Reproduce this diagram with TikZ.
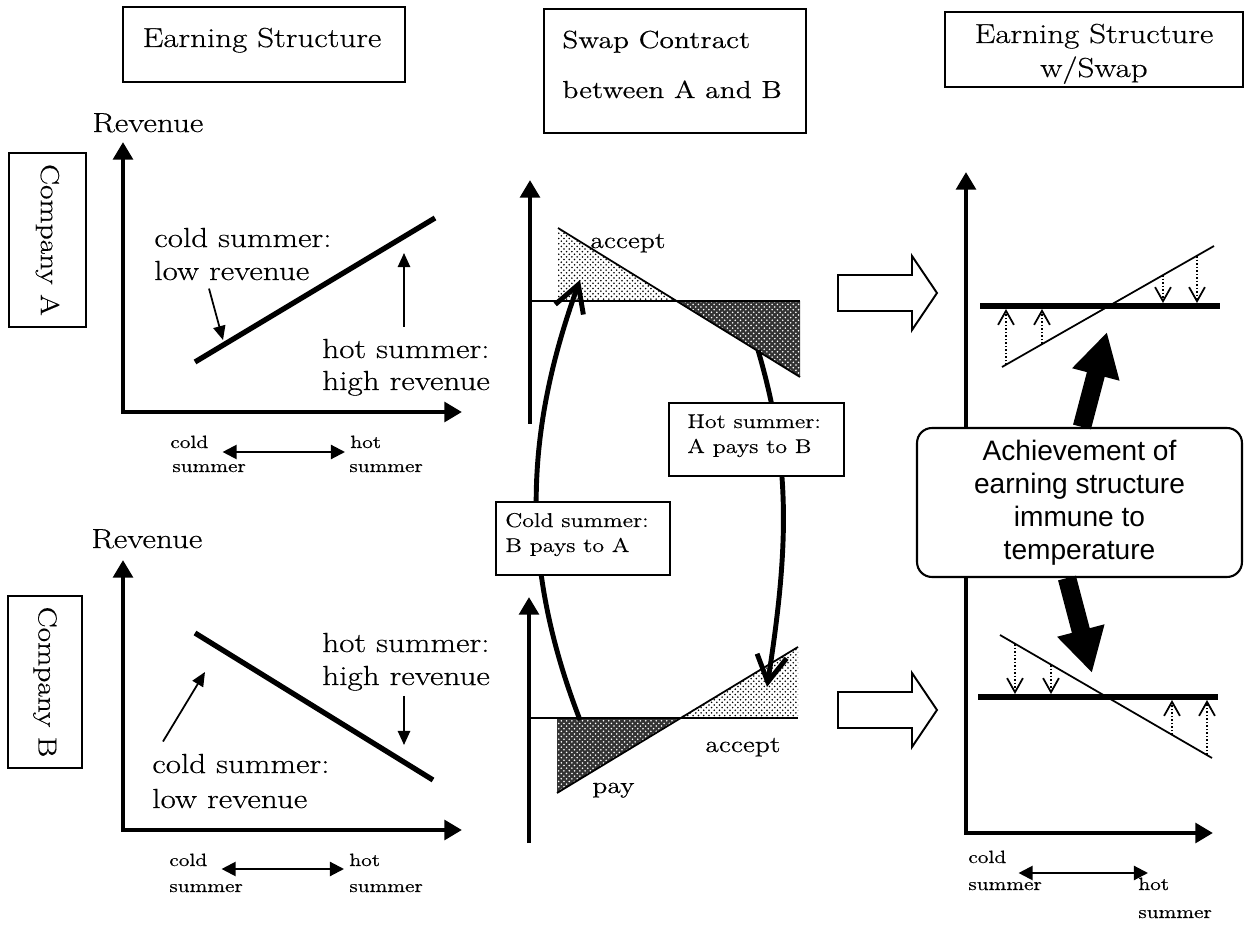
\documentclass[tikz,border=0pt]{standalone}
\usepackage{fontspec}
\setmainfont{Latin Modern Roman}[FakeStretch=1.2, FakeBold=0.45]
\newfontfamily\achfont{Liberation Sans}
\usepackage{tikz}
\usetikzlibrary{arrows.meta, patterns, positioning}

\begin{document}
\begin{tikzpicture}[x=0.02cm, y=-0.02cm, >={Triangle[length=10pt,width=11pt]},
  hdbox/.style={draw, line width=1pt, inner sep=0pt},
  lbl/.style={font=\fontsize{15.7}{18}\selectfont, inner sep=0pt, anchor=base west},
  ticklbl/.style={font=\fontsize{10.1}{13}\selectfont, inner sep=0pt, anchor=base west},
  note/.style={font=\fontsize{11.35}{14}\selectfont, inner sep=0pt, anchor=base west},
  axisln/.style={line width=2.5pt},
  revline/.style={line width=3pt},
  thinln/.style={line width=1pt},
  flat/.style={line width=3.5pt},
  pointer/.style={line width=1pt, -{Triangle[length=8pt,width=7pt]}},
  rangearr/.style={line width=1.2pt, {Triangle[length=8pt,width=8pt]}-{Triangle[length=8pt,width=8pt]}},
  swaparr/.style={line width=2.8pt, -{Straight Barb[length=15pt,width=17pt]}},
  fat/.style={line width=10.5pt, -{Triangle[length=25pt,width=26pt]}},
  adjarr/.style={densely dotted, line width=1pt, -{Straight Barb[length=8pt,width=9pt]}},
  accept/.style={pattern=crosshatch dots},
  pay/.style={preaction={fill=black!80}, pattern=crosshatch dots, pattern color=white}]

\useasboundingbox (0,0) rectangle (1249,929);

% column headers
\node[hdbox, minimum width=5.64cm, minimum height=1.5cm] (hdEarn) at (264,44.5) {};
\node[lbl, anchor=base, font=\fontsize{15.65}{18}\selectfont] (hdEarnT) at (262,47) {Earning Structure};
\node[hdbox, minimum width=5.24cm, minimum height=2.48cm] (hdSwap) at (675,71) {};
\node[lbl, font=\fontsize{14}{17}\selectfont] (hdSwapT) at (562,48) {Swap Contract};
\node[lbl, font=\fontsize{14}{17}\selectfont] (hdSwapT2) at (562,98) {between A and B};
\node[hdbox, minimum width=5.96cm, minimum height=1.5cm] (hdWith) at (1094,49.5) {};
\node[lbl, anchor=base, font=\fontsize{15.65}{18}\selectfont] (hdWithT) at (1094,43) {Earning Structure};
\node[lbl, anchor=base, font=\fontsize{15.65}{18}\selectfont] (hdWithT2) at (1094,77) {w/Swap};

% companies
\node[hdbox, rotate=-90, minimum width=3.48cm, minimum height=1.54cm, font=\fontsize{14.9}{17}\selectfont] (coA) at (47.5,240) {Company A};
\node[hdbox, rotate=-90, minimum width=3.44cm, minimum height=1.48cm, font=\fontsize{14.9}{17}\selectfont] (coB) at (45,682) {Company B};

% company A
\draw[axisln, <->] (123,142) |- (462,412);
\coordinate (lowA) at (195,362);
\coordinate (highA) at (435,218);
\draw[revline] (lowA) -- (highA);
\node[lbl] (revA) at (92,132) {Revenue};
\node[lbl] (coldA) at (154,247) {cold summer:};
\node[lbl] (coldA2) at (154,280) {low revenue};
\node[lbl] (hotA) at (322,358) {hot summer:};
\node[lbl] (hotA2) at (322,390) {high revenue};
\coordinate (ptA1) at (223,340);
\coordinate (ptA2) at (404,253);
\draw[pointer] ([shift={(55,8)}]coldA2.south west) -- (ptA1);
\draw[pointer] ([shift={(82,-12)}]hotA.north west) -- (ptA2);
\node[ticklbl] (tcA) at (170,448) {cold};
\node[ticklbl] (tcA2) at (172,472) {summer};
\node[ticklbl] (thA) at (350,448) {hot};
\node[ticklbl] (thA2) at (349,472) {summer};
\draw[rangearr] ([shift={(14,4)}]tcA.base east) -- ([shift={(-5,4)}]thA.base west);

% company B
\draw[axisln, <->] (123,560) |- (462,830);
\coordinate (lowB) at (195,633);
\coordinate (highB) at (433,780);
\draw[revline] (lowB) -- (highB);
\node[lbl] (revB) at (91,548) {Revenue};
\node[lbl] (hotB) at (322,652) {hot summer:};
\node[lbl] (hotB2) at (322,685) {high revenue};
\node[lbl] (coldB) at (152,773) {cold summer:};
\node[lbl] (coldB2) at (152,808) {low revenue};
\coordinate (ptB1) at (205,672);
\coordinate (ptB2) at (404,745);
\draw[pointer] ([shift={(11,-12)}]coldB.north west) -- (ptB1);
\draw[pointer] ([shift={(82,5)}]hotB2.south west) -- (ptB2);
\node[ticklbl] (tcB) at (169,866) {cold};
\node[ticklbl] (tcB2) at (169,892) {summer};
\node[ticklbl] (thB) at (349,866) {hot};
\node[ticklbl] (thB2) at (349,892) {summer};
\draw[rangearr] ([shift={(14,3)}]tcB.base east) -- ([shift={(-5,3)}]thB.base west);

% swap contract
\fill[accept] (558,228) -- (558,301) -- (677,301) -- cycle;
\fill[pay] (677,301) -- (800,301) -- (800,377) -- cycle;
\draw[axisln, ->] (530,424) -- (530,180);
\draw[thinln] (530,301) -- (800,301);
\draw[thinln] (558,228) -- (800,377);
\fill[pay] (557,718) -- (557,793) -- (679,718) -- cycle;
\fill[accept] (679,718) -- (798,718) -- (798,647) -- cycle;
\draw[axisln, ->] (529,843) -- (529,597);
\draw[thinln] (529,718) -- (798,718);
\draw[thinln] (557,793) -- (798,647);
\node[lbl, font=\fontsize{13.1}{16}\selectfont] (accA) at (590,248) {accept};
\node[lbl, font=\fontsize{13.1}{16}\selectfont] (payB) at (592,793) {pay};
\node[lbl, font=\fontsize{13.1}{16}\selectfont] (accB) at (705,752) {accept};

\coordinate (fromB) at (580,720);
\coordinate (toA) at (580,280);
\coordinate (fromA) at (758,350);
\coordinate (toB) at (767,687);
\draw[swaparr] (fromB) .. controls (522,570) and (522,440) .. (toA);
\draw[swaparr] (fromA) .. controls (790,460) and (790,540) .. (toB);

\node[hdbox, fill=white, minimum width=3.5cm, minimum height=1.46cm] (hotBox) at (756.5,439.5) {};
\node[note] (hotT) at (687,428) {Hot summer:};
\node[note] (hotT2) at (687,453) {A pays to B};
\node[hdbox, fill=white, minimum width=3.48cm, minimum height=1.46cm] (coldBox) at (583,538.5) {};
\node[note] (coldT) at (505,527) {Cold summer:};
\node[note] (coldT2) at (505,552) {B pays to A};

% hollow arrows
\foreach \yc in {293,710}
  \draw[line width=1.1pt] (838,\yc-18) -- (912,\yc-18) -- (912,\yc-37) -- (937,\yc)
    -- (912,\yc+37) -- (912,\yc+18) -- (838,\yc+18) -- cycle;

% earning structure with swap
\draw[axisln, ->] (966,600) -- (966,172);
\draw[axisln, <->] (966,560) |- (1213,833);
\draw[flat] (980,306) -- (1220,306);
\draw[thinln] (1002,367) -- (1214,246);
\foreach \x/\y in {1006/365, 1042/344} \draw[adjarr] (\x,\y) -- (\x,309);
\foreach \x/\y in {1163/275, 1197/256} \draw[adjarr] (\x,\y) -- (\x,303);
\draw[flat] (978,697) -- (1218,697);
\draw[thinln] (1000,635) -- (1212,758);
\foreach \x/\y in {1015/644, 1051/665} \draw[adjarr] (\x,\y) -- (\x,694);
\foreach \x/\y in {1172/735, 1207/755} \draw[adjarr] (\x,\y) -- (\x,700);
\node[ticklbl] (tcC) at (968,863) {cold};
\node[ticklbl] (tcC2) at (968,890) {summer};
\node[ticklbl] (thC) at (1138,890) {hot};
\node[ticklbl] (thC2) at (1138,918) {summer};
\draw[rangearr] ([shift={(12,10)}]tcC.base east) -- ([shift={(10,-17)}]thC.base west);

\node[draw, fill=white, line width=1.2pt, rounded corners=8.5pt, minimum width=6.5cm, minimum height=2.98cm,
  align=center, font=\achfont\fontsize{16}{18.8}\selectfont] (ach) at (1079.5,502.5)
  {Achievement of\\earning structure\\immune to\\temperature};
\coordinate (fixA) at (1107,332);
\coordinate (fixB) at (1092,673);
\draw[fat] ([xshift=0.05cm]ach.north) -- (fixA);
\draw[fat] ([xshift=-0.25cm]ach.south) -- (fixB);

\end{tikzpicture}
\end{document}
